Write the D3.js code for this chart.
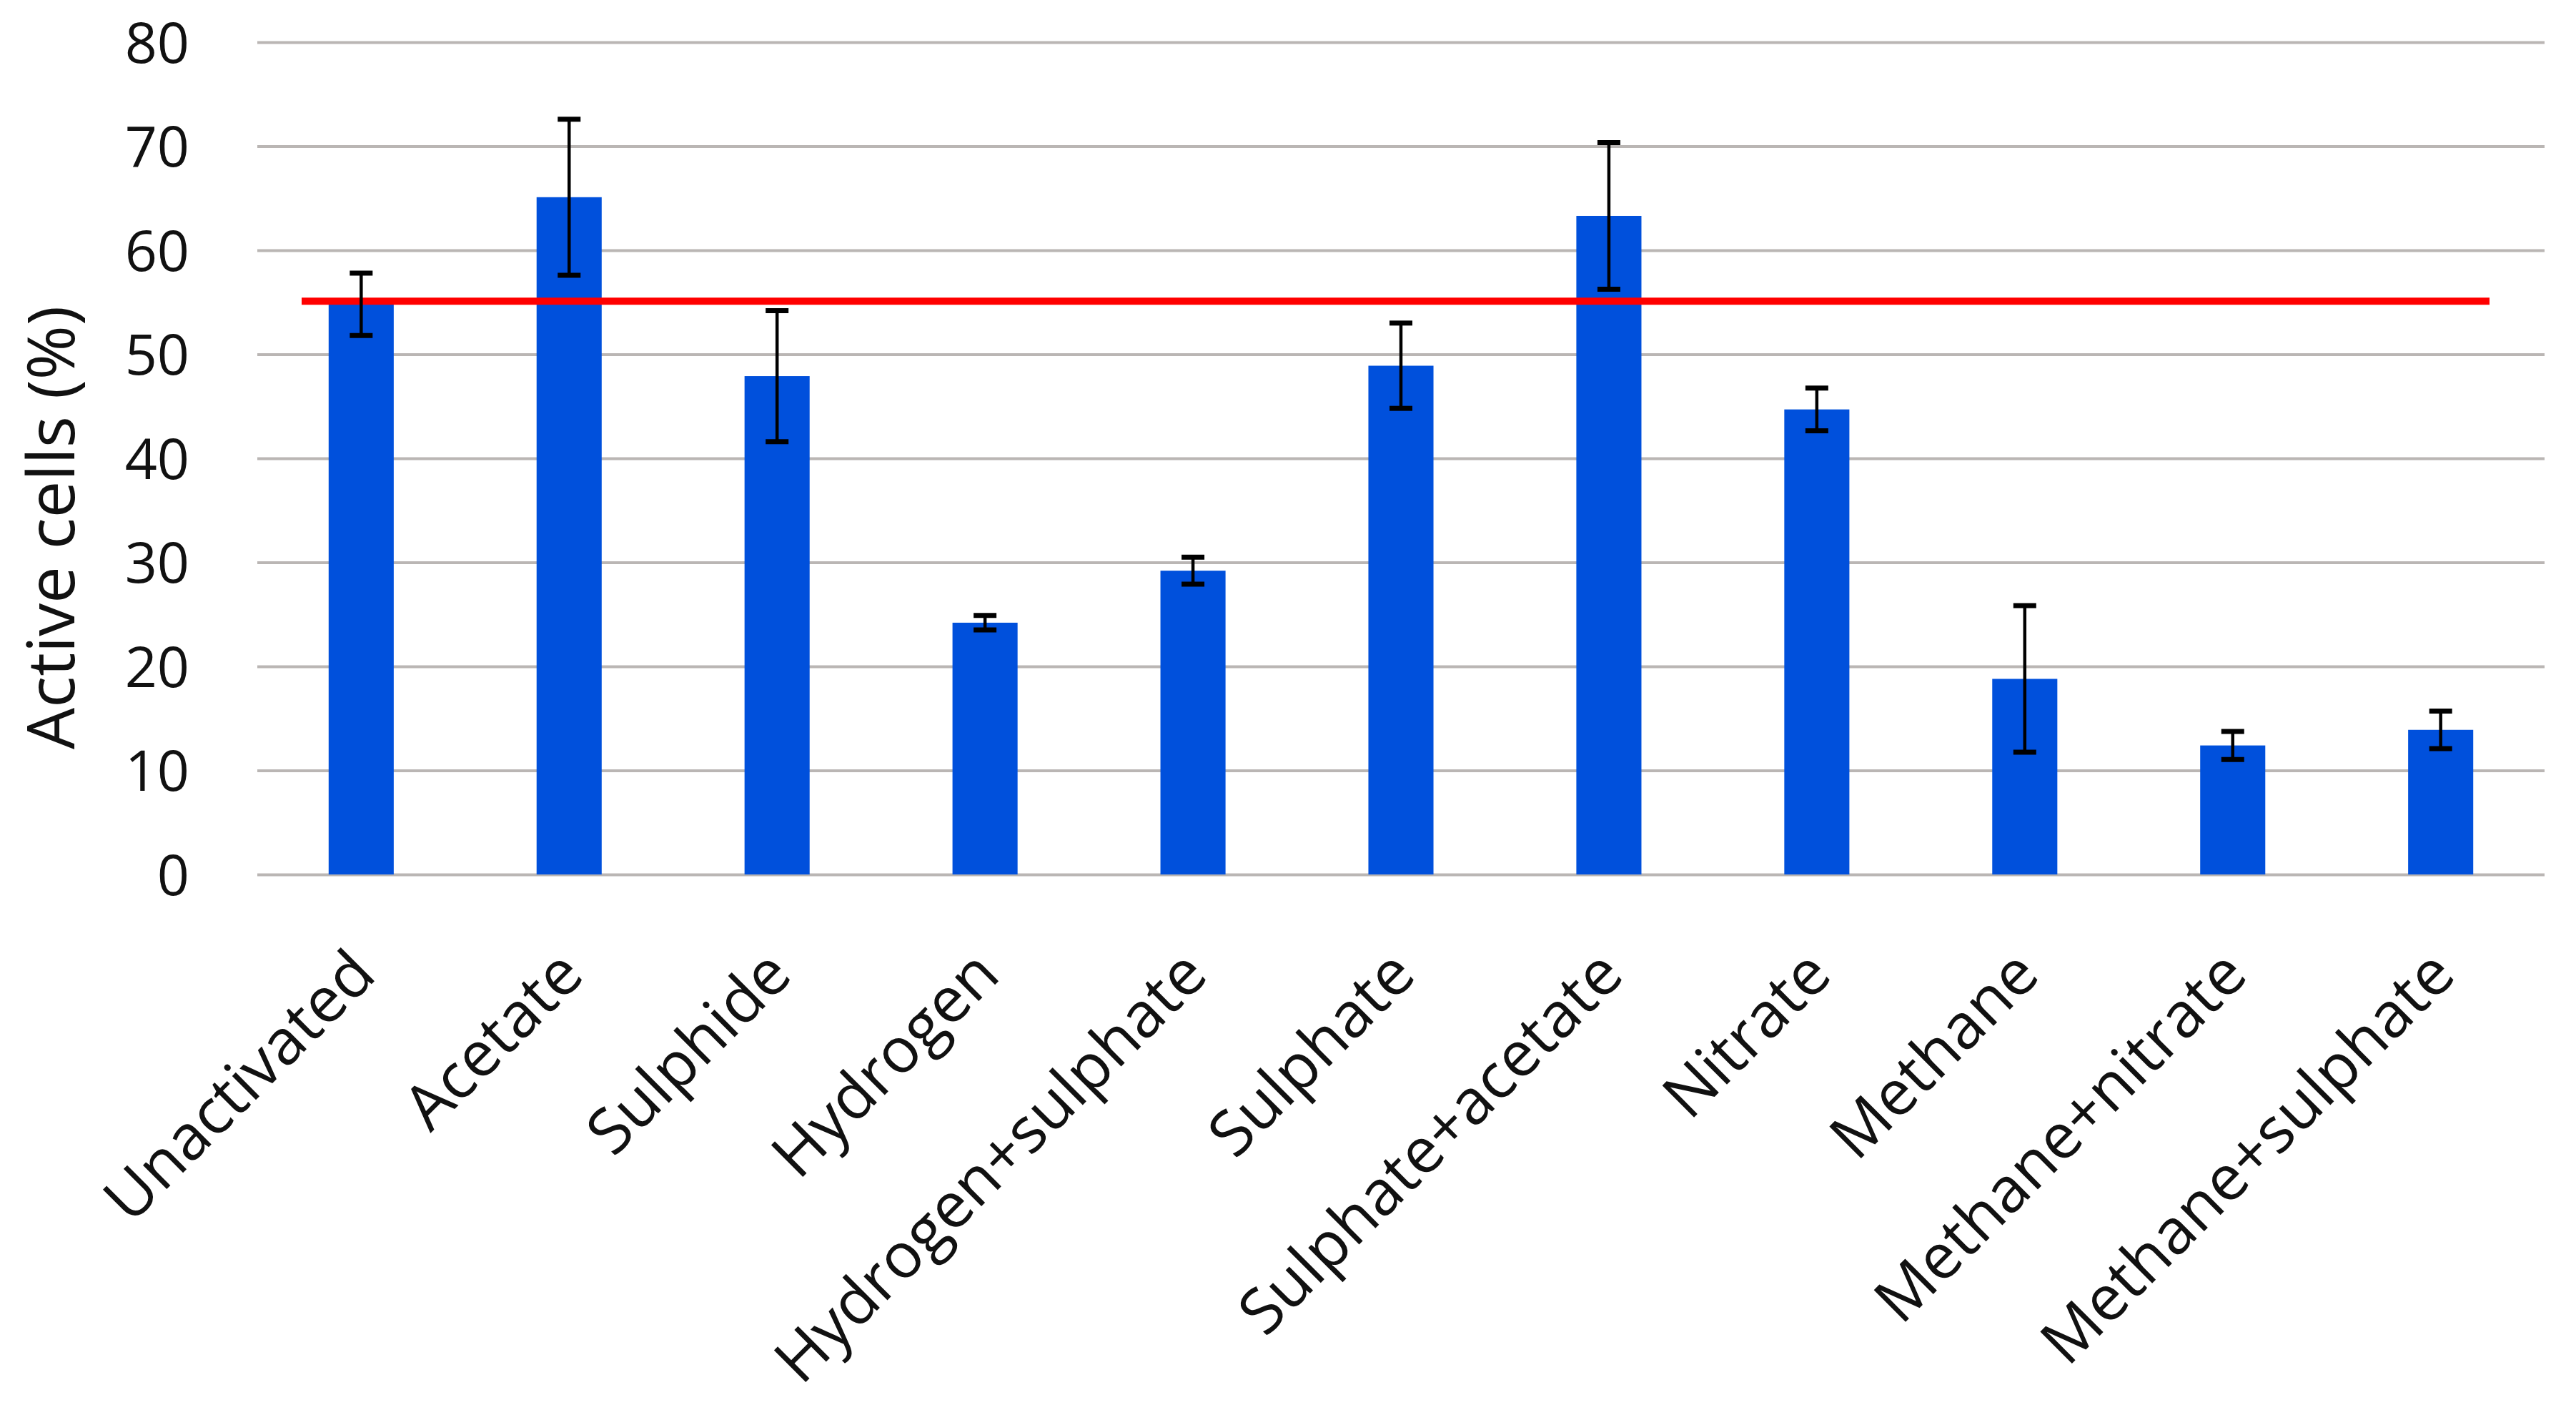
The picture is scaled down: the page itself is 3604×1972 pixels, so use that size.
<!DOCTYPE html>
<html>
<head>
<meta charset="utf-8">
<script src="https://cdn.jsdelivr.net/npm/d3@7"></script>
<style>
  body { margin: 0; background: #fff; }
  text { font-family: "Open Sans", "Noto Sans", sans-serif; fill: #111; }
</style>
</head>
<body>
<div id="mydiv"></div>
<script>
// values
const categories = ["Unactivated", "Acetate", "Sulphide", "Hydrogen", "Hydrogen+sulphate",
  "Sulphate", "Sulphate+acetate", "Nitrate", "Methane", "Methane+nitrate", "Methane+sulphate"];
const means  = [54.8, 65.1, 47.9, 24.2, 29.2, 48.9, 63.3, 44.7, 18.8, 12.4, 13.9];
const errors = [3.0, 7.5, 6.3, 0.7, 1.3, 4.1, 7.05, 2.05, 7.05, 1.35, 1.8];
const yTicks = [0, 10, 20, 30, 40, 50, 60, 70, 80];
const refLevel = 55.1;   // red reference line

const W = 3604, H = 1972;
const margin = {left: 360, right: 44, top: 59, bottom: 749};

const svg = d3.select("#mydiv")
  .append("svg")
  .attr("width", W)
  .attr("height", H)
  .style("background-color", "#fff");

const x = d3.scaleBand()
  .domain(categories)
  .range([margin.left, W - margin.right])
  .paddingInner(0.687)
  .paddingOuter(0.343);

const y = d3.scaleLinear()
  .domain([0, 80])
  .range([H - margin.bottom, margin.top]);

// gridlines
const yAxis = d3.axisLeft(y)
  .tickValues(yTicks)
  .tickSize(-(W - margin.left - margin.right))
  .tickPadding(95);

const gy = svg.append("g")
  .attr("transform", `translate(${margin.left},0)`)
  .call(yAxis);
gy.select(".domain").remove();
gy.selectAll(".tick line")
  .attr("stroke", "#bab6b4")
  .attr("stroke-width", 4);
gy.selectAll(".tick text")
  .style("font-size", "79px")
  .attr("dy", "0.36em");

// bars
svg.append("g").selectAll("rect")
  .data(categories)
  .enter().append("rect")
  .attr("x", d => x(d))
  .attr("width", x.bandwidth())
  .attr("y", (d, i) => y(means[i]))
  .attr("height", (d, i) => y(0) - y(means[i]))
  .attr("fill", "#0050dc");

// red reference line
svg.append("line")
  .attr("x1", 422)
  .attr("x2", 3483)
  .attr("y1", y(refLevel))
  .attr("y2", y(refLevel))
  .attr("stroke", "#ff0000")
  .attr("stroke-width", 10);

// error bars
const gerr = svg.append("g")
  .attr("stroke", "#000")
  .attr("stroke-width", 4.5);
const capW = 16;
categories.forEach((c, i) => {
  const cx = x(c) + x.bandwidth() / 2;
  const hi = y(means[i] + errors[i]), lo = y(means[i] - errors[i]);
  gerr.append("line").attr("x1", cx).attr("x2", cx).attr("y1", hi).attr("y2", lo);
  gerr.append("line").attr("x1", cx - capW).attr("x2", cx + capW).attr("y1", hi).attr("y2", hi).attr("stroke-width", 7);
  gerr.append("line").attr("x1", cx - capW).attr("x2", cx + capW).attr("y1", lo).attr("y2", lo).attr("stroke-width", 7);
});

// category labels, slanted
svg.append("g").selectAll("text")
  .data(categories)
  .enter().append("text")
  .attr("text-anchor", "end")
  .attr("transform", d => `translate(${x(d) + x.bandwidth() / 2 + 24},${y(0) + 144}) rotate(-45)`)
  .style("font-size", "88px")
  .text(d => d);

// y axis title
svg.append("text")
  .attr("text-anchor", "middle")
  .attr("transform", `translate(104,738) rotate(-90)`)
  .style("font-size", "92px")
  .text("Active cells (%)");
</script>
</body>
</html>
